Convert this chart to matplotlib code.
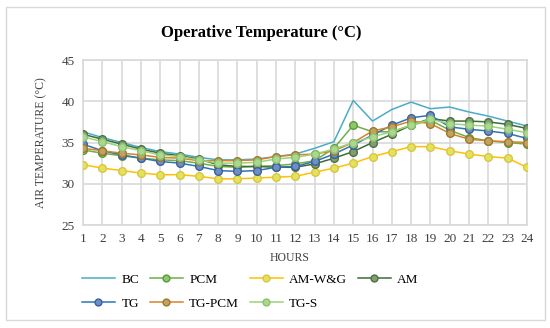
import numpy as np
import matplotlib
matplotlib.use("Agg")
import matplotlib.pyplot as plt
from matplotlib.patches import Rectangle

plt.rcParams['font.family'] = ['Liberation Serif', 'DejaVu Serif']

hours = list(range(1, 25))

# values
bc = [36.3, 35.6, 35.0, 34.4, 33.9, 33.6, 33.2, 32.9, 32.9, 33.0, 33.3, 33.6,
      34.3, 35.1, 40.1, 37.6, 39.0, 39.9, 39.1, 39.3, 38.7, 38.2, 37.6, 37.0]
pcm = [34.1, 33.7, 33.4, 33.1, 32.9, 32.8, 32.5, 32.1, 32.0, 32.1, 32.2, 32.4,
       32.8, 34.3, 37.1, 36.3, 36.3, 37.1, 37.7, 36.5, 35.6, 35.2, 35.0, 34.8]
am_wg = [32.3, 31.9, 31.6, 31.3, 31.1, 31.1, 30.9, 30.6, 30.6, 30.7, 30.8, 30.9,
         31.4, 31.9, 32.5, 33.3, 33.9, 34.5, 34.5, 34.0, 33.6, 33.3, 33.1, 32.0]
am = [36.0, 35.4, 34.8, 34.2, 33.7, 33.4, 33.0, 32.3, 32.1, 32.1, 32.0, 32.0,
      32.4, 33.1, 33.9, 35.0, 36.0, 37.1, 37.9, 37.6, 37.6, 37.5, 37.2, 36.7]
tg = [34.8, 34.0, 33.5, 33.1, 32.7, 32.5, 32.1, 31.6, 31.5, 31.6, 32.0, 32.1,
      32.7, 33.6, 34.7, 35.9, 37.1, 38.0, 38.3, 36.9, 36.6, 36.4, 36.1, 35.5]
tg_pcm = [34.3, 34.0, 33.7, 33.5, 33.2, 33.1, 32.8, 32.8, 32.8, 32.9, 33.3, 33.5,
          33.6, 34.0, 35.0, 36.4, 36.9, 37.6, 37.3, 36.1, 35.4, 35.2, 35.1, 35.0]
tg_s = [35.7, 35.1, 34.5, 34.0, 33.5, 33.3, 32.9, 32.5, 32.5, 32.6, 33.0, 33.2,
        33.6, 34.2, 35.0, 35.7, 36.3, 37.1, 37.8, 37.3, 37.1, 37.0, 36.6, 36.2]

fig = plt.figure(figsize=(5.5, 3.28), dpi=100)
ax = fig.add_axes([0.151, 0.314, 0.807, 0.503])

# frame around the whole chart
fig.patches.append(Rectangle((0.01, 0.025), 0.98, 0.955, transform=fig.transFigure,
                             fill=False, edgecolor='#d9d9d9', linewidth=1))

ms = 5.5
h_bc, = ax.plot(hours, bc, color='#4bacc6', lw=1.1, label='BC', zorder=3)
h_pcm, = ax.plot(hours, pcm, color='#70ad47', lw=1.1, marker='o', ms=ms,
                 mfc='#8cc76a', mec='#5d9a3a', label='PCM', zorder=3)
h_wg, = ax.plot(hours, am_wg, color='#ffc000', lw=1.1, marker='o', ms=ms,
                mfc='#e3e35a', mec='#d9c445', label='AM-W&G', zorder=3)
h_am, = ax.plot(hours, am, color='#3f6b35', lw=1.1, marker='o', ms=ms,
                mfc='#7f9f6f', mec='#4f6f45', label='AM', zorder=3)
h_tg, = ax.plot(hours, tg, color='#2e75b6', lw=1.1, marker='o', ms=ms,
                mfc='#6a8fc9', mec='#3f5f95', label='TG', zorder=3)
h_tgp, = ax.plot(hours, tg_pcm, color='#d9822b', lw=1.1, marker='o', ms=ms,
                 mfc='#c4a25c', mec='#9a7a30', label='TG-PCM', zorder=3)
h_tgs, = ax.plot(hours, tg_s, color='#9bd27a', lw=1.1, marker='o', ms=ms,
                 mfc='#a9d88e', mec='#8cc070', label='TG-S', zorder=3)

ax.set_xlim(1, 24)
ax.set_ylim(25, 45)
ax.set_xticks(hours)
ax.set_yticks([25, 30, 35, 40, 45])
ax.grid(True, color='#d9d9d9', lw=1.2)
for s in ax.spines.values():
    s.set_color('#d9d9d9')
    s.set_linewidth(1.2)
ax.tick_params(length=0, labelsize=9.5, colors='#404040', pad=6)

fig.text(0.475, 0.9, 'Operative Temperature (°C)', fontsize=12, fontweight='bold',
         ha='center', va='center')
ax.set_xlabel('HOURS', fontsize=8.5, color='#404040')
ax.xaxis.set_label_coords(0.466, -0.165)
ax.set_ylabel('AIR TEMPERATURE (°C)', fontsize=8.5, color='#404040', labelpad=10)

# legend fills column-wise, so order handles to read row by row
order = [h_bc, h_tg, h_pcm, h_tgp, h_wg, h_tgs, h_am]
fig.legend(handles=order, labels=[h.get_label() for h in order],
           loc='center', bbox_to_anchor=(0.455, 0.11), ncol=4, frameon=False,
           fontsize=9.5, handlelength=2.5, columnspacing=0.8, labelspacing=0.9,
           handletextpad=0.5, markerscale=0.9)

fig.savefig('out.png', dpi=100)
